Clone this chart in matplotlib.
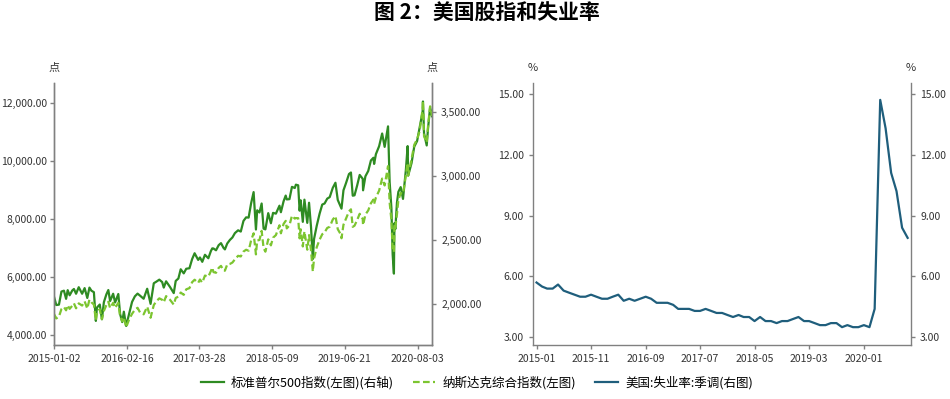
import numpy as np
import pandas as pd
import matplotlib
matplotlib.use('Agg')
import matplotlib.pyplot as plt
import matplotlib.dates as mdates
from matplotlib.ticker import FuncFormatter, FixedLocator

plt.rcParams['font.family'] = ['Noto Sans CJK SC', 'DejaVu Sans']

# stock indices (approximate closes)
idx_dates = [
    '2015-01-02', '2015-01-15', '2015-01-30', '2015-02-13', '2015-02-27', '2015-03-11',
    '2015-03-20', '2015-03-31', '2015-04-15', '2015-04-24', '2015-05-06', '2015-05-21',
    '2015-06-09', '2015-06-23', '2015-07-08', '2015-07-20', '2015-07-31', '2015-08-14',
    '2015-08-25', '2015-08-31', '2015-09-16', '2015-09-28', '2015-10-09', '2015-10-23',
    '2015-11-03', '2015-11-13', '2015-11-30', '2015-12-11', '2015-12-29', '2016-01-08',
    '2016-01-20', '2016-01-29', '2016-02-11', '2016-02-29', '2016-03-15', '2016-03-31',
    '2016-04-15', '2016-04-29', '2016-05-19', '2016-06-08', '2016-06-27', '2016-07-15',
    '2016-07-29', '2016-08-15', '2016-08-31', '2016-09-09', '2016-09-22', '2016-10-14',
    '2016-11-04', '2016-11-15', '2016-11-30', '2016-12-13', '2016-12-30', '2017-01-13',
    '2017-01-31', '2017-02-15', '2017-03-01', '2017-03-21', '2017-03-31', '2017-04-13',
    '2017-04-28', '2017-05-17', '2017-05-31', '2017-06-08', '2017-06-15', '2017-06-29',
    '2017-07-14', '2017-07-27', '2017-08-10', '2017-08-18', '2017-08-31', '2017-09-15',
    '2017-09-29', '2017-10-13', '2017-10-31', '2017-11-15', '2017-11-30', '2017-12-15',
    '2017-12-29', '2018-01-12', '2018-01-26', '2018-02-08', '2018-02-15', '2018-02-28',
    '2018-03-12', '2018-03-23', '2018-04-02', '2018-04-18', '2018-05-03', '2018-05-15',
    '2018-05-31', '2018-06-20', '2018-06-28', '2018-07-13', '2018-07-25', '2018-07-31',
    '2018-08-15', '2018-08-29', '2018-09-14', '2018-09-20', '2018-10-03', '2018-10-11',
    '2018-10-17', '2018-10-29', '2018-11-07', '2018-11-23', '2018-12-03', '2018-12-14',
    '2018-12-24', '2018-12-31', '2019-01-15', '2019-01-31', '2019-02-15', '2019-02-28',
    '2019-03-15', '2019-03-29', '2019-04-15', '2019-04-30', '2019-05-13', '2019-05-31',
    '2019-06-03', '2019-06-14', '2019-06-28', '2019-07-15', '2019-07-26', '2019-08-05',
    '2019-08-15', '2019-08-30', '2019-09-13', '2019-09-30', '2019-10-02', '2019-10-15',
    '2019-10-31', '2019-11-15', '2019-11-29', '2019-12-03', '2019-12-13', '2019-12-31',
    '2020-01-17', '2020-01-31', '2020-02-19', '2020-02-28', '2020-03-09', '2020-03-16',
    '2020-03-23', '2020-03-26', '2020-03-31', '2020-04-09', '2020-04-17', '2020-04-30',
    '2020-05-13', '2020-05-29', '2020-06-08', '2020-06-11', '2020-06-30', '2020-07-15',
    '2020-07-31', '2020-08-14', '2020-08-31', '2020-09-02', '2020-09-08', '2020-09-23',
    '2020-09-30', '2020-10-12', '2020-10-23',
]
sp500 = [
    2058, 1992, 1995, 2097, 2104, 2040, 2108, 2068, 2106, 2117, 2080, 2131,
    2080, 2124, 2047, 2128, 2104, 2092, 1868, 1972, 1996, 1881, 2014, 2075,
    2109, 2023, 2080, 2012, 2078, 1922, 1859, 1940, 1829, 1932, 2016, 2060,
    2081, 2065, 2041, 2119, 2001, 2162, 2174, 2190, 2171, 2128, 2177, 2133,
    2085, 2180, 2199, 2271, 2239, 2275, 2279, 2350, 2396, 2344, 2363, 2329,
    2384, 2357, 2412, 2434, 2433, 2419, 2459, 2475, 2438, 2426, 2472, 2500,
    2519, 2553, 2575, 2565, 2648, 2676, 2674, 2786, 2873, 2581, 2731, 2714,
    2784, 2588, 2582, 2709, 2630, 2711, 2705, 2767, 2716, 2801, 2846, 2816,
    2818, 2914, 2905, 2931, 2926, 2728, 2809, 2641, 2814, 2633, 2790, 2600,
    2351, 2507, 2610, 2704, 2776, 2784, 2822, 2834, 2906, 2946, 2812, 2752,
    2744, 2887, 2942, 3014, 3026, 2845, 2848, 2926, 3007, 2977, 2887, 2996,
    3038, 3120, 3141, 3093, 3169, 3231, 3330, 3226, 3386, 2954, 2747, 2386,
    2237, 2630, 2585, 2790, 2875, 2912, 2820, 3044, 3232, 3002, 3100, 3227,
    3271, 3373, 3500, 3580, 3332, 3237, 3363, 3534, 3465,
]
nasdaq = [
    4726, 4570, 4635, 4893, 4964, 4850, 5026, 4901, 5011, 5092, 4920, 5090,
    5014, 5160, 4910, 5219, 5128, 5048, 4506, 4777, 4889, 4544, 4830, 5032,
    5145, 4927, 5109, 4933, 5107, 4643, 4472, 4614, 4267, 4558, 4729, 4870,
    4938, 4775, 4712, 4974, 4594, 5030, 5162, 5262, 5213, 5126, 5339, 5214,
    5046, 5276, 5323, 5463, 5383, 5574, 5615, 5819, 5904, 5794, 5912, 5805,
    6048, 6011, 6199, 6321, 6166, 6144, 6312, 6382, 6217, 6216, 6429, 6448,
    6496, 6606, 6728, 6706, 6874, 6937, 6903, 7261, 7505, 6777, 7256, 7273,
    7588, 6993, 6870, 7295, 7088, 7352, 7442, 7781, 7503, 7826, 7932, 7672,
    7775, 8110, 8010, 8028, 8025, 7329, 7642, 7050, 7570, 6939, 7442, 6911,
    6193, 6635, 7024, 7282, 7472, 7533, 7688, 7729, 7976, 8095, 7647, 7453,
    7333, 7797, 8006, 8258, 8330, 7726, 7766, 7963, 8176, 7999, 7786, 8148,
    8292, 8540, 8665, 8520, 8735, 8973, 9389, 9151, 9817, 8567, 7950, 6905,
    6861, 7797, 7700, 8154, 8650, 8890, 8863, 9490, 9925, 9493, 10059, 10550,
    10745, 11019, 11775, 12056, 10848, 10633, 11168, 11876, 11548,
]
idx_ticks = ['2015-01-02', '2016-02-16', '2017-03-28', '2018-05-09', '2019-06-21', '2020-08-03']

# US unemployment rate, seasonally adjusted, monthly 2015-01 .. 2020-09
unemp = [
    5.7, 5.5, 5.4, 5.4, 5.6, 5.3, 5.2, 5.1, 5.0, 5.0, 5.1, 5.0,
    4.9, 4.9, 5.0, 5.1, 4.8, 4.9, 4.8, 4.9, 5.0, 4.9, 4.7, 4.7,
    4.7, 4.6, 4.4, 4.4, 4.4, 4.3, 4.3, 4.4, 4.3, 4.2, 4.2, 4.1,
    4.0, 4.1, 4.0, 4.0, 3.8, 4.0, 3.8, 3.8, 3.7, 3.8, 3.8, 3.9,
    4.0, 3.8, 3.8, 3.7, 3.6, 3.6, 3.7, 3.7, 3.5, 3.6, 3.5, 3.5,
    3.6, 3.5, 4.4, 14.7, 13.3, 11.1, 10.2, 8.4, 7.9,
]
unemp_start = '2015-01'
unemp_ticks = ['2015-01', '2015-11', '2016-09', '2017-07', '2018-05', '2019-03', '2020-01']

c_sp = '#2E8B22'
c_nd = '#7CC530'
c_un = '#1F5E7C'
spine_c = '#808080'
txt_c = '#333333'
tick_fs = 7.5


def style_axes(ax):
    ax.spines['top'].set_visible(False)
    for s in ['left', 'right', 'bottom']:
        ax.spines[s].set_color(spine_c)
        ax.spines[s].set_linewidth(1.0)
    ax.tick_params(axis='both', colors=spine_c, labelcolor=txt_c,
                   labelsize=tick_fs, length=3, width=1, direction='out')


fig = plt.figure(figsize=(9.5, 3.99), dpi=100)

# ---- left panel: stock indices
d = pd.to_datetime(idx_dates)
ax1 = fig.add_axes([0.0568, 0.1353, 0.398, 0.6566])
ax1r = ax1.twinx()
ax1r.plot(d, sp500, color=c_sp, lw=1.6, label='标准普尔500指数(左图)(右轴)')
ax1.plot(d, nasdaq, color=c_nd, lw=1.6, dashes=[3, 1.5], label='纳斯达克综合指数(左图)')
# nasdaq drawn above s&p
ax1.set_zorder(ax1r.get_zorder() + 1)
ax1.patch.set_visible(False)

ax1.set_ylim(3655, 12680)
ax1r.set_ylim(1680, 3724)
ax1.set_xlim(pd.Timestamp('2015-01-02'), pd.Timestamp('2020-10-23'))
ax1.yaxis.set_major_locator(FixedLocator([4000, 6000, 8000, 10000, 12000]))
ax1.yaxis.set_major_formatter(FuncFormatter(lambda v, p: f'{v:,.2f}'))
ax1r.yaxis.set_major_locator(FixedLocator([2000, 2500, 3000, 3500]))
ax1r.yaxis.set_major_formatter(FuncFormatter(lambda v, p: f'{v:,.2f}'))
ax1.set_xticks(pd.to_datetime(idx_ticks))
ax1.set_xticklabels(idx_ticks)
for a in (ax1, ax1r):
    style_axes(a)
ax1.tick_params(axis='y', pad=2)
ax1.text(0, 1.04, '点', transform=ax1.transAxes, ha='center', va='bottom',
         fontsize=8, color=txt_c)
ax1.text(1, 1.04, '点', transform=ax1.transAxes, ha='center', va='bottom',
         fontsize=8, color=txt_c)

# ---- right panel: unemployment
m = pd.date_range(unemp_start, periods=len(unemp), freq='MS')
ax2 = fig.add_axes([0.561, 0.1353, 0.398, 0.6566])
ax2.plot(m, unemp, color=c_un, lw=1.6, label='美国:失业率:季调(右图)')
ax2.set_xlim(m[0] - pd.Timedelta(days=20), m[-1] + pd.Timedelta(days=19))
ax2.set_ylim(2.62, 15.53)
ax2.yaxis.set_major_locator(FixedLocator([3, 6, 9, 12, 15]))
ax2.yaxis.set_major_formatter(FuncFormatter(lambda v, p: f'{v:.2f}'))
ax2.tick_params(axis='y', right=True, labelright=True)
ax2.set_xticks(pd.to_datetime(unemp_ticks))
ax2.set_xticklabels(unemp_ticks)
style_axes(ax2)
ax2.text(0, 1.04, '%', transform=ax2.transAxes, ha='center', va='bottom',
         fontsize=8, color=txt_c)
ax2.text(1, 1.04, '%', transform=ax2.transAxes, ha='center', va='bottom',
         fontsize=8, color=txt_c)

# ---- title and legend
fig.text(0.513, 0.967, '图 2：美国股指和失业率', ha='center', va='center',
         fontsize=15, fontweight='bold', color='black')

handles = ax1r.get_lines() + ax1.get_lines() + ax2.get_lines()
fig.legend(handles, [h.get_label() for h in handles], loc='center',
           bbox_to_anchor=(0.502, 0.04), ncol=3, frameon=False, fontsize=9,
           handlelength=1.8, columnspacing=1.5, handletextpad=0.6)

fig.savefig('out.png', dpi=100)
